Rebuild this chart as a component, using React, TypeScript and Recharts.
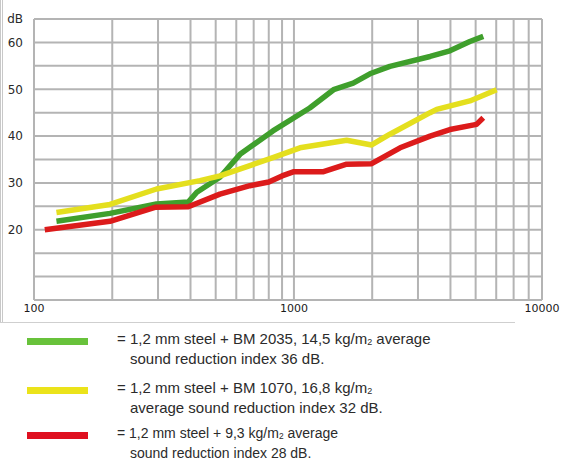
import React from "react";
import { LineChart, Line, XAxis, YAxis, CartesianGrid } from "recharts";

// Frequencies (Hz) and sound reduction values (dB)
const greenFreq = [122, 196, 296, 392, 423, 519, 620, 830, 1150, 1420, 1690, 1960, 2340, 3340, 3980, 4750, 5350];
const greenDb = [21.8, 23.5, 25.5, 25.9, 28.0, 31.2, 36.1, 41.1, 46.0, 49.9, 51.3, 53.3, 54.9, 57.0, 58.2, 60.2, 61.3];

const yellowFreq = [122, 196, 296, 435, 519, 677, 830, 1055, 1595, 1990, 2340, 3340, 3540, 4750, 6020];
const yellowDb = [23.7, 25.4, 28.7, 30.5, 31.5, 33.7, 35.4, 37.5, 39.1, 38.1, 40.4, 45.0, 45.7, 47.5, 49.9];

const redFreq = [110, 196, 292, 392, 519, 677, 800, 900, 1000, 1300, 1595, 1990, 2560, 3340, 3980, 5040, 5350];
const redDb = [20.0, 21.8, 24.8, 24.9, 27.6, 29.4, 30.2, 31.5, 32.4, 32.4, 34.0, 34.1, 37.5, 40.0, 41.4, 42.5, 43.9];

// Axis ticks (grid lines) and their labels
const xTicks = [100, 200, 300, 400, 500, 600, 700, 800, 900, 1000, 2000, 3000, 4000, 5000, 6000, 7000, 8000, 9000];
const xTickLabels: Record<number, string> = { 100: "100", 1000: "1000", 9000: "10000" };
const yTicks = [5, 10, 15, 20, 25, 30, 35, 40, 45, 50, 55, 60, 65];
const yTickLabels: Record<number, string> = { 20: "20", 30: "30", 40: "40", 50: "50", 60: "60", 65: "dB" };

const seriesColors = ["#3f9f2c", "#e4df1e", "#dc1b1b"];
const legendSwatches = ["#68c23b", "#ebe31a", "#df1020"];
const legendLines1 = [
  "1,2 mm steel + BM 2035, 14,5 kg/m",
  "1,2 mm steel + BM 1070, 16,8 kg/m",
  "1,2 mm steel + 9,3 kg/m",
];
const legendAfterSub = [" average", "", " average"];
const legendLines2 = [
  "sound reduction index 36 dB.",
  "average sound reduction index 32 dB.",
  "sound reduction index 28 dB.",
];

const toRows = (f: number[], v: number[]) => f.map((x, i) => ({ f: x, v: v[i] }));
const greenData = toRows(greenFreq, greenDb);
const yellowData = toRows(yellowFreq, yellowDb);
const redData = toRows(redFreq, redDb);

const legendTop = [333, 382, 427];
const legendFont = [15, 15, 14];

export default function App() {
  return (
    <div
      style={{
        position: "absolute",
        left: 0,
        top: 0,
        width: 561,
        height: 460,
        background: "#fff",
        overflow: "hidden",
      }}
    >
      <div
        style={{
          position: "absolute",
          left: 0,
          top: 0,
          width: 1,
          height: 323,
          borderLeft: "1px solid #c8c8c8",
          borderRight: "1px solid #c8c8c8",
        }}
      />
      <div
        style={{
          position: "absolute",
          left: 0,
          top: 322,
          width: 515,
          height: 0,
          borderTop: "1px solid #cfcfcf",
        }}
      />
      <div style={{ position: "absolute", left: 0, top: 0 }}>
        <LineChart width={561} height={320} margin={{ top: 19, right: 19, bottom: 0, left: 0 }}>
          <CartesianGrid stroke="#b4b4b4" strokeWidth={2} />
          <XAxis
            dataKey="f"
            type="number"
            scale="log"
            domain={[100, 9000]}
            allowDataOverflow
            ticks={xTicks}
            interval={0}
            tickFormatter={(t: number) => xTickLabels[t] ?? ""}
            tickLine={false}
            axisLine={false}
            tickSize={0}
            tickMargin={4}
            height={20}
            tick={{ fontSize: 11, fill: "#1a1a1a", fontFamily: "DejaVu Sans" }}
          />
          <YAxis
            type="number"
            domain={[5, 65]}
            ticks={yTicks}
            interval={0}
            tickFormatter={(t: number) => yTickLabels[t] ?? ""}
            tickLine={false}
            axisLine={false}
            tickSize={0}
            tickMargin={11}
            width={34}
            tick={{ fontSize: 12, fill: "#2a2a2a", fontFamily: "DejaVu Sans" }}
          />
          <Line data={greenData} dataKey="v" stroke={seriesColors[0]} strokeWidth={5.5} dot={false} isAnimationActive={false} strokeLinejoin="round" />
          <Line data={yellowData} dataKey="v" stroke={seriesColors[1]} strokeWidth={5.5} dot={false} isAnimationActive={false} strokeLinejoin="round" />
          <Line data={redData} dataKey="v" stroke={seriesColors[2]} strokeWidth={5.5} dot={false} isAnimationActive={false} strokeLinejoin="round" />
        </LineChart>
      </div>
      {legendLines1.map((t, i) => (
        <div key={i}>
          <div
            style={{
              position: "absolute",
              left: 27,
              top: legendTop[i] + 5,
              width: 61,
              height: 7,
              background: legendSwatches[i],
            }}
          />
          <div
            style={{
              position: "absolute",
              left: 117,
              top: legendTop[i] - 3,
              fontFamily: "Liberation Sans, Arial, sans-serif",
              fontSize: legendFont[i],
              lineHeight: "18px",
              color: "#2b2b2b",
              whiteSpace: "nowrap",
            }}
          >
            <div>
              {"= "}
              {t}
              <span style={{ fontSize: "0.6em", position: "relative", top: "0.15em" }}>2</span>
              {legendAfterSub[i]}
            </div>
            <div style={{ paddingLeft: 13 }}>{legendLines2[i]}</div>
          </div>
        </div>
      ))}
    </div>
  );
}
